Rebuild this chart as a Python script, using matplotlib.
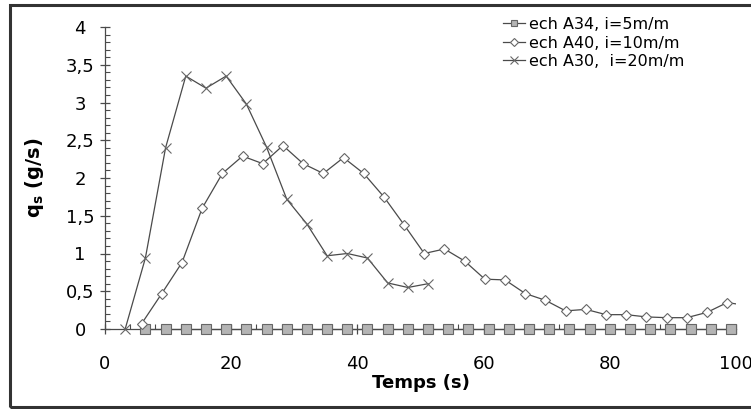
import matplotlib
matplotlib.use("Agg")
from matplotlib import pyplot as plt
from matplotlib.patches import Rectangle
from matplotlib.ticker import MultipleLocator, FuncFormatter

plt.rcParams["font.family"] = ["DejaVu Sans"]

# ech A34, i=5m/m (squares)
t_a34 = [6.4, 9.6, 12.8, 16.0, 19.2, 22.4, 25.6, 28.8, 32.0, 35.2,
         38.4, 41.6, 44.8, 48.0, 51.2, 54.4, 57.6, 60.8, 64.0, 67.2,
         70.4, 73.6, 76.8, 80.0, 83.2, 86.4, 89.6, 92.8, 96.0, 99.2]
q_a34 = [0.0] * len(t_a34)

# ech A40, i=10m/m (diamonds)
t_a40 = [5.8, 9.0, 12.2, 15.4, 18.6, 21.8, 25.0, 28.2, 31.4, 34.6,
         37.8, 41.0, 44.2, 47.4, 50.6, 53.8, 57.0, 60.2, 63.4, 66.6,
         69.8, 73.0, 76.2, 79.4, 82.6, 85.8, 89.0, 92.2, 95.4, 98.6, 101.8]
q_a40 = [0.07, 0.47, 0.88, 1.60, 2.06, 2.29, 2.19, 2.43, 2.19, 2.06,
         2.27, 2.06, 1.75, 1.38, 1.00, 1.06, 0.90, 0.66, 0.65, 0.47,
         0.38, 0.24, 0.26, 0.19, 0.19, 0.16, 0.15, 0.15, 0.22, 0.35, 0.31]

# ech A30, i=20m/m (crosses)
t_a30 = [3.2, 6.4, 9.6, 12.8, 16.0, 19.2, 22.4, 25.6, 28.8, 32.0,
         35.2, 38.4, 41.6, 44.8, 48.0, 51.2]
q_a30 = [0.0, 0.94, 2.40, 3.35, 3.19, 3.35, 2.98, 2.41, 1.72, 1.39,
         0.97, 1.00, 0.94, 0.61, 0.55, 0.60]

x_ticks = [0, 20, 40, 60, 80, 100]
y_ticks = [0, 0.5, 1, 1.5, 2, 2.5, 3, 3.5, 4]

line_col = "#4a4a4a"
edge_col = "#666666"

fig = plt.figure(figsize=(7.51, 4.09), dpi=100)
ax = fig.add_axes([105 / 751, 1 - 329 / 409, (736 - 105) / 751, (329 - 27) / 409])

ax.plot(t_a34, q_a34, color=line_col, lw=0.9, marker="s", ms=6.5,
        mfc="#b4b4b4", mec=edge_col, mew=0.8, label="ech A34, i=5m/m",
        zorder=3, clip_on=False)
ax.plot(t_a40, q_a40, color=line_col, lw=0.9, marker="D", ms=5.6,
        mfc="white", mec=edge_col, mew=0.8, label="ech A40, i=10m/m", zorder=4)
ax.plot(t_a30, q_a30, color=line_col, lw=0.9, marker="x", ms=7.5,
        mec=edge_col, mew=0.8, label="ech A30,  i=20m/m", zorder=4, clip_on=False)

ax.set_xlim(0, 100)
ax.set_ylim(0, 4)
ax.set_xticks(x_ticks)
ax.set_yticks(y_ticks)
ax.xaxis.set_minor_locator(MultipleLocator(4))
ax.yaxis.set_minor_locator(MultipleLocator(0.1))
ax.yaxis.set_major_formatter(FuncFormatter(lambda v, p: f"{v:g}".replace(".", ",")))

for s in ("top", "right"):
    ax.spines[s].set_visible(False)
for s in ("left", "bottom"):
    ax.spines[s].set_color(line_col)
    ax.spines[s].set_linewidth(0.9)

ax.tick_params(which="major", direction="inout", length=7.2, width=0.9,
               color=line_col, labelsize=13)
ax.tick_params(which="minor", direction="in", length=3.4, width=0.8, color=line_col)
ax.tick_params(axis="y", which="major", pad=14.4)
ax.tick_params(axis="x", which="major", pad=15)
for lab in ax.get_yticklabels():
    lab.set_horizontalalignment("center")

ax.set_xlabel("Temps (s)", fontsize=13, fontweight="bold")
ax.set_ylabel(r"q$_\mathregular{s}$ (g/s)", fontsize=14, fontweight="bold")
ax.xaxis.set_label_coords(0.5, (329 - 374) / 302)
ax.yaxis.set_label_coords((46 - 105) / 631, 0.5)

ax.legend(loc="upper left", bbox_to_anchor=(503 / 751, 1 - 17 / 409),
          bbox_transform=fig.transFigure, frameon=False,
          fontsize=11.5, handlelength=1.4, handletextpad=0.25, labelspacing=0.22,
          borderaxespad=0, borderpad=0, markerscale=0.75)

fig.patches.append(Rectangle((10 / 751, 1 - 407 / 409), 745 / 751, 402 / 409,
                             transform=fig.transFigure, fill=False,
                             edgecolor="#333333", linewidth=2.2))

fig.savefig("out.png", dpi=100)
